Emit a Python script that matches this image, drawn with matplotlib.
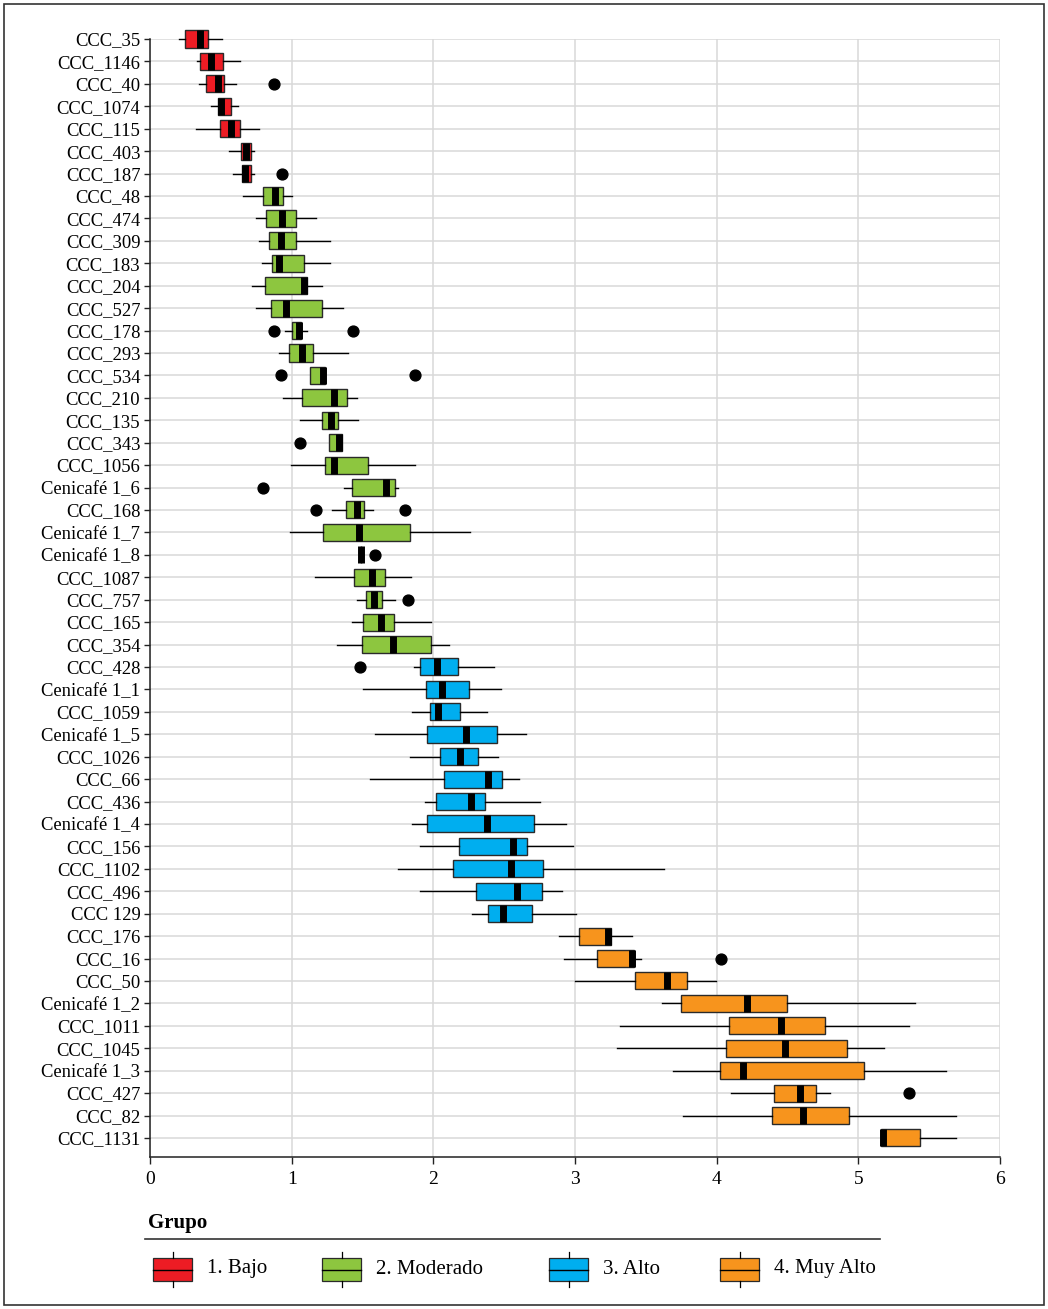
import matplotlib
matplotlib.use("Agg")
import matplotlib.pyplot as plt
from matplotlib.patches import Rectangle
from matplotlib.lines import Line2D
import numpy as np

plt.rcParams['font.family'] = ['Liberation Serif', 'DejaVu Serif']

labels = ["CCC_35", "CCC_1146", "CCC_40", "CCC_1074", "CCC_115", "CCC_403", "CCC_187",
          "CCC_48", "CCC_474", "CCC_309", "CCC_183", "CCC_204", "CCC_527", "CCC_178",
          "CCC_293", "CCC_534", "CCC_210", "CCC_135", "CCC_343", "CCC_1056", "Cenicafé 1_6",
          "CCC_168", "Cenicafé 1_7", "Cenicafé 1_8", "CCC_1087", "CCC_757", "CCC_165",
          "CCC_354", "CCC_428", "Cenicafé 1_1", "CCC_1059", "Cenicafé 1_5", "CCC_1026",
          "CCC_66", "CCC_436", "Cenicafé 1_4", "CCC_156", "CCC_1102", "CCC_496", "CCC 129",
          "CCC_176", "CCC_16", "CCC_50", "Cenicafé 1_2", "CCC_1011", "CCC_1045",
          "Cenicafé 1_3", "CCC_427", "CCC_82", "CCC_1131"]

group = [0]*7 + [1]*21 + [2]*12 + [3]*10

whislo = [0.205, 0.335, 0.347, 0.434, 0.323, 0.559, 0.587,
          0.658, 0.745, 0.771, 0.788, 0.717, 0.745, 0.955, 0.908, 1.132, 0.941, 1.061, 1.262,
          0.995, 1.368, 1.283, 0.986, 1.491, 1.167, 1.462, 1.425, 1.318,
          1.866, 1.507, 1.847, 1.590, 1.837, 1.550, 1.943, 1.847, 1.903, 1.748, 1.903, 2.274,
          2.887, 2.920, 3.002, 3.613, 3.317, 3.296, 3.691, 4.100, 3.759, 5.157]
q1 = [0.248, 0.354, 0.394, 0.483, 0.493, 0.639, 0.646,
      0.795, 0.816, 0.837, 0.861, 0.814, 0.856, 1.000, 0.979, 1.132, 1.071, 1.217, 1.262,
      1.238, 1.425, 1.384, 1.222, 1.491, 1.441, 1.524, 1.502, 1.498,
      1.908, 1.946, 1.976, 1.953, 2.047, 2.073, 2.017, 1.953, 2.182, 2.137, 2.304, 2.389,
      3.026, 3.157, 3.423, 3.750, 4.086, 4.065, 4.025, 4.403, 4.389, 5.157]
med = [0.354, 0.429, 0.479, 0.502, 0.573, 0.677, 0.670,
       0.882, 0.932, 0.925, 0.913, 1.085, 0.962, 1.050, 1.073, 1.224, 1.302, 1.278, 1.337,
       1.300, 1.663, 1.462, 1.472, 1.491, 1.568, 1.583, 1.632, 1.717,
       2.026, 2.064, 2.035, 2.231, 2.189, 2.389, 2.269, 2.380, 2.564, 2.550, 2.592, 2.493,
       3.230, 3.400, 3.651, 4.215, 4.457, 4.483, 4.187, 4.591, 4.610, 5.176]
q3 = [0.410, 0.517, 0.519, 0.573, 0.637, 0.710, 0.715,
      0.939, 1.028, 1.031, 1.085, 1.108, 1.217, 1.068, 1.151, 1.233, 1.392, 1.330, 1.356,
      1.540, 1.731, 1.509, 1.833, 1.491, 1.660, 1.639, 1.722, 1.983,
      2.177, 2.250, 2.191, 2.448, 2.316, 2.483, 2.366, 2.710, 2.660, 2.774, 2.767, 2.698,
      3.251, 3.418, 3.794, 4.497, 4.763, 4.922, 5.038, 4.699, 4.932, 5.435]
whishi = [0.505, 0.637, 0.606, 0.618, 0.767, 0.731, 0.731,
          1.000, 1.170, 1.271, 1.271, 1.215, 1.361, 1.106, 1.401, 1.233, 1.458, 1.469, 1.356,
          1.868, 1.750, 1.573, 2.257, 1.491, 1.844, 1.729, 1.981, 2.111,
          2.429, 2.481, 2.380, 2.656, 2.455, 2.606, 2.755, 2.936, 2.983, 3.630, 2.910, 3.007,
          3.402, 3.468, 3.994, 5.400, 5.357, 5.181, 5.618, 4.803, 5.689, 5.691]
outliers = [[], [], [0.877], [], [], [], [0.932],
            [], [], [], [], [], [], [0.875, 1.436], [], [0.922, 1.870], [], [], [1.061],
            [], [0.80], [1.170, 1.802], [], [1.585], [], [1.823], [], [],
            [1.483], [], [], [], [], [], [], [], [], [], [], [],
            [], [4.032], [], [], [], [], [], [5.357], [], []]

group_names = ["1. Bajo", "2. Moderado", "3. Alto", "4. Muy Alto"]
group_colors = ["#ED1C24", "#8DC63F", "#00AEEF", "#F7941D"]
legend_title = "Grupo"
xticks = [0, 1, 2, 3, 4, 5, 6]

W, H = 1048, 1309
fig = plt.figure(figsize=(W/100, H/100), dpi=100)

# axes placement (pixels)
ax_left, ax_right, ax_top, ax_bottom = 150, 1000, 39.0, 1157
ax = fig.add_axes([ax_left/W, 1 - ax_bottom/H, (ax_right-ax_left)/W, (ax_bottom-ax_top)/H])

n = len(labels)
stats = []
for i in range(n):
    stats.append(dict(label=labels[i], whislo=whislo[i], q1=q1[i], med=med[i],
                      q3=q3[i], whishi=whishi[i], fliers=outliers[i]))
positions = np.arange(n)

common = dict(positions=positions, widths=0.76, patch_artist=True, showcaps=False,
              boxprops=dict(edgecolor="#2a2a2a", linewidth=1.0),
              whiskerprops=dict(color="black", linewidth=1.0),
              medianprops=dict(color="black", linewidth=5.0, solid_capstyle="butt"),
              flierprops=dict(marker="o", markerfacecolor="black", markeredgecolor="black",
                              markersize=7.8, linestyle="none"))
try:
    res = ax.bxp(stats, orientation="horizontal", **common)
except TypeError:
    res = ax.bxp(stats, vert=False, **common)

for i, b in enumerate(res["boxes"]):
    b.set_facecolor(group_colors[group[i]])
for key in res:
    for art in res[key]:
        art.set_clip_on(False)
        art.set_zorder(3)
for m in res["medians"]:
    m.set_zorder(4)

ax.set_ylim(n - 1 + 0.85, 0)
ax.set_xlim(0, 6)
ax.set_xticks(xticks)
ax.set_xticklabels([str(t) for t in xticks], fontsize=14)
ax.set_yticks(positions)
ax.set_yticklabels(labels, fontsize=13.4)
ax.tick_params(axis="y", direction="out", length=4, width=1.0, pad=3, color="#222222")
ax.tick_params(axis="x", direction="out", length=5, width=1.0, pad=5, color="#222222")
ax.grid(True, color="#d9d9d9", linewidth=1.1)
ax.set_axisbelow(True)
for s in ["top", "right"]:
    ax.spines[s].set_visible(False)
for s in ["left", "bottom"]:
    ax.spines[s].set_color("#222222")
    ax.spines[s].set_linewidth(1.1)

# overlay axes in pixel coordinates for legend and frame
ov = fig.add_axes([0, 0, 1, 1], zorder=5)
ov.set_xlim(0, W)
ov.set_ylim(H, 0)
ov.axis("off")
ov.patch.set_alpha(0)

ov.add_patch(Rectangle((4, 4), W - 8, H - 8, fill=False, edgecolor="#333333", linewidth=1.2))

ov.text(148, 1223, legend_title, fontsize=15, fontweight="bold", ha="left", va="center")
ov.add_line(Line2D([145, 880], [1239, 1239], color="#333333", linewidth=1.2))

patch_x = [153, 322, 549, 720]
for k in range(4):
    x0 = patch_x[k]
    wdt, y0, y1 = 39, 1258, 1281
    cx = x0 + wdt / 2
    ov.add_line(Line2D([cx, cx], [1252, y0], color="black", linewidth=0.9))
    ov.add_line(Line2D([cx, cx], [y1, 1287], color="black", linewidth=0.9))
    ov.add_patch(Rectangle((x0, y0), wdt, y1 - y0, facecolor=group_colors[k],
                           edgecolor="#2a2a2a", linewidth=0.9))
    ov.add_line(Line2D([x0, x0 + wdt], [(y0 + y1) / 2] * 2, color="black", linewidth=1.0))
    ov.text(x0 + 54, 1269, group_names[k], fontsize=15, ha="left", va="center")

fig.savefig("out.png", dpi=100)
